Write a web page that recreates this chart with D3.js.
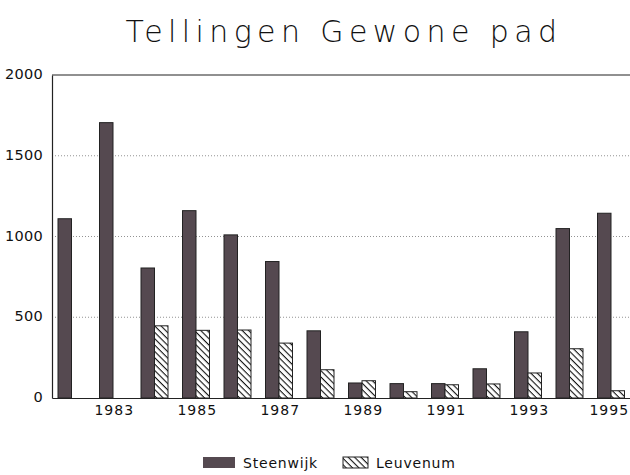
<!DOCTYPE html>
<html>
<head>
<meta charset="utf-8">
<script src="https://cdn.jsdelivr.net/npm/d3@7"></script>
<style>
  body { margin: 0; background: #fff; }
  text { font-family: "DejaVu Sans", sans-serif; fill: #111; }
</style>
</head>
<body>
<svg id="chart" width="630" height="475"></svg>
<script>
// jaren en tellingen
var jaren = [1982, 1983, 1984, 1985, 1986, 1987, 1988, 1989, 1990, 1991, 1992, 1993, 1994, 1995]
var steenwijk = [1110, 1705, 805, 1160, 1010, 845, 416, 93, 89, 89, 181, 410, 1049, 1144]
var leuvenum = [null, null, 447, 419, 421, 340, 175, 107, 39, 82, 87, 155, 305, 45]
var yTicks = [0, 500, 1000, 1500, 2000]
var xLabels = [1983, 1985, 1987, 1989, 1991, 1993, 1995]
var reeksen = ["Steenwijk", "Leuvenum"]

// marges
var margin = {top: 75, left: 52, right: 633, bottom: 398}

var svg = d3.select("#chart")

// patronen: arcering voor Leuvenum
var defs = svg.append("defs")
var hatch = defs.append("pattern")
    .attr("id", "hatch")
    .attr("patternUnits", "userSpaceOnUse")
    .attr("width", 4.5)
    .attr("height", 4.5)
    .attr("patternTransform", "rotate(45)")
hatch.append("rect").attr("width", 4.5).attr("height", 4.5).attr("fill", "#fff")
hatch.append("line")
    .attr("x1", 0).attr("y1", 0).attr("x2", 4.5).attr("y2", 0)
    .attr("stroke", "#111").attr("stroke-width", 2.2)

var kleur = {Steenwijk: "#554950", Leuvenum: "url(#hatch)"}

// schalen
var x0 = d3.scaleBand()
    .domain(jaren)
    .range([margin.left, margin.right])

var x1 = d3.scaleBand()
    .domain(reeksen)
    .range([6, 33])

var y = d3.scaleLinear()
    .domain([0, 2000])
    .range([margin.bottom, margin.top])

// titel
svg.append("text")
    .attr("x", 344)
    .attr("y", 42)
    .attr("text-anchor", "middle")
    .attr("font-size", 30)
    .attr("font-weight", 300)
    .attr("letter-spacing", 5.4)
    .style("font-family", "'DejaVu Sans', sans-serif")
    .text("Tellingen Gewone pad")

// rasterlijnen
svg.append("g")
  .selectAll("line")
  .data([500, 1000, 1500])
  .enter().append("line")
    .attr("x1", margin.left)
    .attr("x2", margin.right)
    .attr("y1", function(d) { return y(d) })
    .attr("y2", function(d) { return y(d) })
    .attr("stroke", "#777")
    .attr("stroke-width", 0.8)
    .attr("stroke-dasharray", "1,2")

// bovenrand
svg.append("line")
    .attr("x1", margin.left).attr("x2", margin.right)
    .attr("y1", y(2000)).attr("y2", y(2000))
    .attr("stroke", "#222").attr("stroke-width", 1.2)

// y as
var yAxis = svg.append("g")
    .attr("transform", "translate(" + margin.left + ",0)")
    .call(d3.axisLeft(y).tickValues(yTicks).tickFormat(d3.format("d")).tickSize(0).tickPadding(9))
yAxis.select(".domain").attr("stroke", "#222").attr("stroke-width", 1.2)
yAxis.selectAll("text")
    .attr("font-size", 14.5)
    .attr("dy", "0.25em")
    .attr("letter-spacing", 0.3)
    .style("font-family", "'DejaVu Sans', sans-serif")

// balken
var groepen = svg.append("g")
  .selectAll("g")
  .data(jaren)
  .enter().append("g")
    .attr("transform", function(d) { return "translate(" + x0(d) + ",0)" })

groepen.selectAll("rect")
  .data(function(d, i) {
    return [{key: "Steenwijk", value: steenwijk[i]}, {key: "Leuvenum", value: leuvenum[i]}]
      .filter(function(e) { return e.value != null })
  })
  .enter().append("rect")
    .attr("x", function(d) { return x1(d.key) })
    .attr("y", function(d) { return y(d.value) })
    .attr("width", x1.bandwidth())
    .attr("height", function(d) { return y(0) - y(d.value) })
    .attr("fill", function(d) { return kleur[d.key] })
    .attr("stroke", "#222")
    .attr("stroke-width", 1)

// x as
var xAxis = svg.append("g")
    .attr("transform", "translate(0," + margin.bottom + ")")
    .call(d3.axisBottom(x0).tickValues(xLabels).tickSize(0).tickPadding(7))
xAxis.select(".domain").attr("stroke", "#222").attr("stroke-width", 1.2)
xAxis.selectAll("text")
    .attr("font-size", 14)
    .attr("letter-spacing", 1)
    .attr("dx", function(d) { return d === 1995 ? -3 : 0 })
    .style("font-family", "'DejaVu Sans', sans-serif")

// legenda
var legenda = svg.append("g")
var legPos = [{key: "Steenwijk", x: 203, w: 32}, {key: "Leuvenum", x: 343, w: 25}]
legPos.forEach(function(d) {
  legenda.append("rect")
      .attr("x", d.x).attr("y", 457)
      .attr("width", d.w).attr("height", 11)
      .attr("fill", kleur[d.key])
      .attr("stroke", d.key === "Leuvenum" ? "#222" : "none")
  legenda.append("text")
      .attr("x", d.x + d.w + 8)
      .attr("y", 468)
      .attr("font-size", 14)
      .attr("letter-spacing", 0.8)
      .text(d.key)
})
</script>
</body>
</html>
